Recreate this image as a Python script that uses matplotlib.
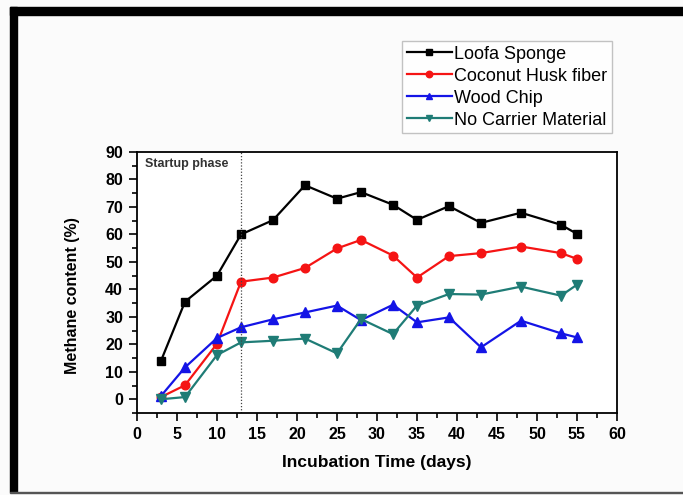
import numpy as np
import matplotlib
matplotlib.use('Agg')
import matplotlib.pyplot as plt
from matplotlib.patches import Rectangle
from matplotlib.ticker import MultipleLocator

# ---------- Données ----------
days = [3, 6, 10, 13, 17, 21, 25, 28, 32, 35, 39, 43, 48, 53, 55]

loofa   = [14.0, 35.5, 45.0, 60.0, 65.2, 77.9, 73.0, 75.4, 70.8, 65.3, 70.3, 64.2, 67.9, 63.5, 60.2]
coconut = [0.8, 5.1, 20.2, 42.8, 44.3, 47.8, 54.9, 58.0, 52.3, 44.3, 52.1, 53.2, 55.6, 53.2, 51.1]
wood    = [1.2, 11.6, 22.3, 26.2, 29.1, 31.6, 34.1, 28.8, 34.4, 28.0, 29.8, 18.9, 28.6, 24.0, 22.5]
nocarr  = [0.0, 0.8, 16.1, 20.7, 21.3, 22.1, 16.7, 29.2, 23.7, 34.1, 38.3, 38.1, 41.0, 37.7, 41.7]

series_names = ["Loofa Sponge", "Coconut Husk fiber", "Wood Chip", "No Carrier Material"]
startup_end = 13

# ---------- Figure ----------
fig = plt.figure(figsize=(6.83, 4.95), dpi=100)
fig.patch.set_facecolor("#fbfbfb")

W, H = 683.0, 495.0
# cadre noir épais (haut et gauche), trait fin en bas
fig.patches.append(Rectangle((10/W, 1-15/H), 1-10/W, 8/H, transform=fig.transFigure,
                             color="black", zorder=0))
fig.patches.append(Rectangle((10/W, 1-492/H), 7/W, 485/H, transform=fig.transFigure,
                             color="black", zorder=0))
fig.patches.append(Rectangle((10/W, 1-493/H), 1-10/W, 1.5/H, transform=fig.transFigure,
                             color="#555555", zorder=0))

ax = fig.add_axes([137/W, 1-413/H, 480/W, 261/H])
ax.set_facecolor("white")

styles = [
    dict(color="black",   marker="s", ms=5.5),
    dict(color="#f51414", marker="o", ms=6.2),
    dict(color="#1414e6", marker="^", ms=6.5),
    dict(color="#1f7c76", marker="v", ms=6.5),
]
for ys, name, st in zip([loofa, coconut, wood, nocarr], series_names, styles):
    ax.plot(days, ys, color=st["color"], marker=st["marker"], markersize=st["ms"],
            lw=1.6, label=name)

ax.axvline(startup_end, color="#444444", ls=(0, (1, 1.5)), lw=0.9)
ax.text(1.0, 85.5, "Startup phase", fontsize=9, fontweight="bold",
        family="Liberation Sans", color="#333333", va="center")

ax.set_xlim(0, 60)
ax.set_ylim(-5, 90)
ax.xaxis.set_major_locator(MultipleLocator(5))
ax.xaxis.set_minor_locator(MultipleLocator(2.5))
ax.yaxis.set_major_locator(MultipleLocator(10))
ax.yaxis.set_minor_locator(MultipleLocator(5))
ax.set_yticks(np.arange(0, 91, 10))
ax.tick_params(which="major", direction="out", length=6, width=1.2, labelsize=11.5, pad=4)
ax.tick_params(which="minor", direction="out", length=3.5, width=1.2)
for sp in ax.spines.values():
    sp.set_linewidth(1.3)

for lab in ax.get_xticklabels() + ax.get_yticklabels():
    lab.set_fontweight("bold")
    lab.set_family("Liberation Sans")

ax.set_xlabel("Incubation Time (days)", fontsize=12.5, fontweight="bold",
              family="Liberation Sans", va="center")
ax.set_ylabel("Methane content (%)", fontsize=11.5, fontweight="bold",
              family="Liberation Sans", va="center")
ax.xaxis.set_label_coords(0.5, (413 - 463) / 261)
ax.yaxis.set_label_coords((73 - 137) / 480, 0.45)

leg = fig.legend(loc="upper left", bbox_to_anchor=(402/W, 1-41/H), borderaxespad=0,
                 fancybox=False, frameon=True, edgecolor="#b4b4b4",
                 prop={"family": "Liberation Sans", "size": 13},
                 handlelength=2.5, handletextpad=0.15, labelspacing=0.28,
                 borderpad=0.25, markerscale=0.75)
leg.get_frame().set_linewidth(1.0)
leg.get_frame().set_facecolor("white")

fig.savefig("out.png", dpi=100, facecolor=fig.get_facecolor())
